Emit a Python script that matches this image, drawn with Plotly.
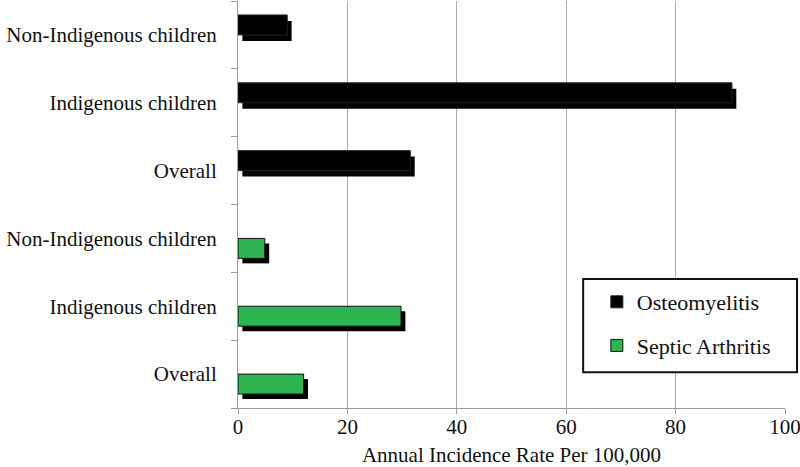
import plotly.graph_objects as go

# Data (bottom to top order)
categories = ["Overall", "Indigenous children", "Non-Indigenous children",
              "Overall", "Indigenous children", "Non-Indigenous children"]
osteo_pos = [3, 4, 5]
osteo_vals = [31.5, 90.3, 9.0]
septic_pos = [0, 1, 2]
septic_vals = [12.0, 29.8, 4.9]

FONT = "Liberation Serif"
GREEN = "#2EB450"
SHIFT = 0.8  # horizontal shadow shift in data units

fig = go.Figure()

# shadows
fig.add_trace(go.Bar(y=osteo_pos, x=osteo_vals, base=SHIFT, orientation="h",
                     offset=-0.088, width=0.294, marker=dict(color="black", line=dict(width=0)),
                     showlegend=False, hoverinfo="skip"))
fig.add_trace(go.Bar(y=septic_pos, x=septic_vals, base=SHIFT, orientation="h",
                     offset=-0.368, width=0.294, marker=dict(color="black", line=dict(width=0)),
                     showlegend=False, hoverinfo="skip"))
# main bars
fig.add_trace(go.Bar(y=osteo_pos, x=osteo_vals, orientation="h", name="Osteomyelitis",
                     offset=0.0, width=0.294, legendgroup="a",
                     marker=dict(color="black", line=dict(color="#222", width=1))))
fig.add_trace(go.Bar(y=septic_pos, x=septic_vals, orientation="h", name="Septic Arthritis",
                     offset=-0.294, width=0.294, legendgroup="b",
                     marker=dict(color=GREEN, line=dict(color="#111", width=1))))

# legend frame
fig.add_shape(type="rect", xref="paper", yref="paper", x0=0.631, x1=1.022, y0=0.088, y1=0.317,
              line=dict(color="#111", width=2), fillcolor="white", layer="above")

fig.update_layout(
    width=800, height=467,
    margin=dict(l=238, r=15, t=1, b=59, autoexpand=False),
    barmode="overlay",
    plot_bgcolor="white", paper_bgcolor="white",
    font=dict(family=FONT, size=21, color="#111"),
    legend=dict(x=0.656, y=0.312, xanchor="left", yanchor="top",
                bgcolor="rgba(0,0,0,0)", borderwidth=0,
                font=dict(family=FONT, size=22, color="#111"),
                traceorder="grouped", tracegroupgap=12,
                itemwidth=30),
    xaxis=dict(range=[0, 100], tickvals=[0, 20, 40, 60, 80, 100],
               automargin=False, ticklabeloverflow="allow",
               showgrid=True, gridcolor="#a7abb4", gridwidth=1,
               showline=True, linecolor="#9a9a9a", linewidth=1,
               ticks="outside", ticklen=5, tickcolor="#9a9a9a",
               ticklabelstandoff=-5,
               tickfont=dict(family=FONT, size=21, color="#111"),
               title=dict(text="Annual Incidence Rate Per 100,000", standoff=10,
                          font=dict(family=FONT, size=21, color="#111")),
               zeroline=False),
    yaxis=dict(range=[-0.5, 5.5], tickvals=list(range(6)), ticktext=categories,
               automargin=False,
               ticks="", showgrid=False, zeroline=False,
               showline=True, linecolor="#9a9a9a", linewidth=1,
               ticklabelstandoff=16,
               tickfont=dict(family=FONT, size=21, color="#111"),
               minor=dict(tickvals=[-0.5, 0.5, 1.5, 2.5, 3.5, 4.5, 5.5],
                          ticks="outside", ticklen=6, tickcolor="#9a9a9a", showgrid=False)),
)

fig.write_html("out.html", config={"displayModeBar": False},
               post_script="document.body.style.margin='0';document.body.style.overflow='hidden';")
